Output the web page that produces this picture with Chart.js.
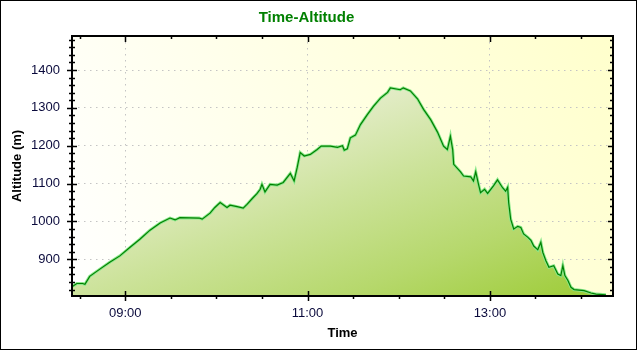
<!DOCTYPE html>
<html>
<head>
<meta charset="utf-8">
<title>Time-Altitude</title>
<script src="https://cdn.jsdelivr.net/npm/chart.js@4.4.1/dist/chart.umd.min.js"></script>
<style>
  html, body { margin: 0; padding: 0; background: #fff; }
  canvas { display: block; }
</style>
</head>
<body>
<canvas id="altitudeChart" width="640" height="350"></canvas>
<script>
// track log : clock time / altitude (m)
const times = [
    '08:25:30', '08:28:10', '08:32:00', '08:33:30', '08:36:40', '08:43:20', '08:49:50', '08:56:30',
    '09:03:00', '09:09:40', '09:16:20', '09:23:00', '09:29:30', '09:32:50', '09:36:00', '09:48:40',
    '09:50:40', '09:55:50', '09:59:00', '10:02:30', '10:07:00', '10:09:00', '10:13:40', '10:17:40',
    '10:20:10', '10:23:30', '10:26:50', '10:28:50', '10:30:00', '10:32:00', '10:35:20', '10:40:00',
    '10:44:00', '10:48:40', '10:51:10', '10:53:10', '10:55:10', '10:57:50', '11:01:50', '11:06:20',
    '11:09:00', '11:15:00', '11:19:40', '11:23:00', '11:24:10', '11:26:10', '11:28:10', '11:31:30',
    '11:34:50', '11:39:20', '11:43:20', '11:48:00', '11:52:40', '11:54:30', '12:01:00', '12:03:00',
    '12:07:40', '12:12:20', '12:16:20', '12:21:00', '12:25:30', '12:29:30', '12:32:00', '12:34:00',
    '12:35:30', '12:36:10', '12:40:40', '12:42:40', '12:47:20', '12:49:10', '12:50:40', '12:52:30',
    '12:53:50', '12:56:30', '12:58:30', '13:02:20', '13:05:00', '13:08:20', '13:10:20', '13:11:40',
    '13:12:20', '13:13:40', '13:15:40', '13:18:20', '13:20:20', '13:22:10', '13:25:00', '13:27:00',
    '13:28:50', '13:31:30', '13:33:30', '13:34:50', '13:36:50', '13:38:50', '13:42:00', '13:44:40',
    '13:46:40', '13:48:00', '13:49:20', '13:51:20', '13:53:20', '13:55:20', '14:02:00', '14:06:30',
    '14:09:50', '14:16:20'
];
const altitudes = [
    829, 836, 836, 834, 855, 874, 892, 909,
    931, 953, 977, 996, 1009, 1004, 1010, 1009,
    1006, 1022, 1037, 1050, 1037, 1043, 1039, 1035,
    1045, 1060, 1074, 1085, 1098, 1078, 1098, 1096,
    1103, 1127, 1107, 1142, 1182, 1173, 1177, 1190,
    1199, 1199, 1196, 1200, 1188, 1192, 1221, 1228,
    1256, 1282, 1304, 1326, 1341, 1353, 1348, 1353,
    1345, 1324, 1296, 1269, 1236, 1199, 1190, 1225,
    1190, 1151, 1131, 1120, 1118, 1107, 1131, 1098,
    1076, 1085, 1074, 1094, 1110, 1089, 1080, 1090,
    1050, 1006, 980, 987, 984, 967, 958, 950,
    935, 925, 945, 918, 896, 879, 883, 861,
    857, 883, 857, 844, 826, 820, 817, 811,
    808, 806
];

// axes
const timeRange = ['08:25', '14:21'];
const timeLabels = ['09:00', '11:00', '13:00'];
const altRange = [803, 1490];
const altLabels = [900, 1000, 1100, 1200, 1300, 1400];

const toMinutes = (s) => {
    const p = s.split(':').map(Number);
    return p[0] * 60 + p[1] + (p[2] || 0) / 60;
};
const pad2 = (n) => String(n).padStart(2, '0');
const fmtTime = (m) => pad2(Math.floor(m / 60)) + ':' + pad2(Math.round(m % 60));

const track = times.map((t, i) => ({ x: toMinutes(t), y: altitudes[i] }));

// fill under the profile : light at top-left, strong green bottom-right
const areaFill = (context) => {
    const { ctx, chartArea } = context.chart;
    if (!chartArea) return null;
    const yScale = context.chart.scales.y;
    const L = chartArea.left, R = chartArea.right, B = chartArea.bottom;
    const T = yScale.getPixelForValue(Math.max(...altitudes));
    const W = R - L, H = B - T;
    const k = 2 * W * H / (W * W + H * H);
    const g = ctx.createLinearGradient(L, T, L + H * k, T + W * k);
    g.addColorStop(0, '#f4f6ee');
    g.addColorStop(0.3, '#e2ecc6');
    g.addColorStop(0.5, '#cde39c');
    g.addColorStop(0.75, '#b6d86c');
    g.addColorStop(1, '#9ccb34');
    return g;
};

// background, frame, inner/outer tick marks
const plotFrame = {
    id: 'plotFrame',
    beforeDraw(chart) {
        const { ctx, chartArea: a } = chart;
        ctx.save();
        ctx.fillStyle = '#fff';
        ctx.fillRect(0, 0, chart.width, chart.height);
        const g = ctx.createLinearGradient(a.left, a.bottom, a.right, a.top);
        g.addColorStop(0, '#ffffff');
        g.addColorStop(1, '#ffffcc');
        ctx.fillStyle = g;
        ctx.fillRect(a.left, a.top, a.right - a.left, a.bottom - a.top);
        ctx.restore();
    },
    afterDraw(chart) {
        const { ctx, chartArea: a, scales } = chart;
        ctx.save();
        ctx.strokeStyle = '#000';
        ctx.lineWidth = 1;
        ctx.strokeRect(0.5, 0.5, 636, 349);

        ctx.lineWidth = 2;
        ctx.strokeRect(a.left, a.top, a.right - a.left, a.bottom - a.top);

        ctx.lineWidth = 1.5;
        ctx.beginPath();
        for (let v = 820; v < altRange[1]; v += 20) {
            const y = Math.round(scales.y.getPixelForValue(v)) + 0.5;
            const major = v % 100 === 0;
            const o = major ? 5 : 3;
            ctx.moveTo(a.left - o, y); ctx.lineTo(a.left + o, y);
            ctx.moveTo(a.right - (major ? 5 : 3), y); ctx.lineTo(a.right, y);
        }
        for (let m = 510; m < toMinutes(timeRange[1]); m += 30) {
            const x = Math.round(scales.x.getPixelForValue(m)) + 0.5;
            const major = (m - 540) % 120 === 0;
            ctx.moveTo(x, a.bottom - (major ? 5 : 0)); ctx.lineTo(x, a.bottom + (major ? 5 : 3));
            ctx.moveTo(x, a.top); ctx.lineTo(x, a.top + (major ? 6 : 3));
        }
        ctx.stroke();
        ctx.restore();
    }
};

const tickFont = { family: '"Liberation Sans", Arial, sans-serif', size: 13 };
const titleFont = { family: '"Liberation Sans", Arial, sans-serif', size: 13, weight: 'bold' };

new Chart(document.getElementById('altitudeChart'), {
    type: 'line',
    data: {
        datasets: [{
            data: track,
            borderColor: '#008000',
            borderWidth: 1.2,
            pointRadius: 0,
            tension: 0,
            fill: false
        }, {
            data: track,
            borderColor: '#8ce88c',
            borderWidth: 3,
            pointRadius: 0,
            tension: 0,
            fill: 'start',
            backgroundColor: areaFill
        }]
    },
    options: {
        responsive: false,
        animation: false,
        events: [],
        devicePixelRatio: 1,
        layout: { padding: { left: 0, top: 0, right: 27, bottom: 0 } },
        plugins: {
            legend: { display: false },
            tooltip: { enabled: false },
            title: {
                display: true,
                text: 'Time-Altitude',
                color: '#008000',
                font: { family: '"Liberation Sans", Arial, sans-serif', size: 15, weight: 'bold' },
                padding: { top: 9, bottom: 9 }
            }
        },
        scales: {
            x: {
                type: 'linear',
                min: toMinutes(timeRange[0]),
                max: toMinutes(timeRange[1]),
                afterBuildTicks: (scale) => {
                    scale.ticks = timeLabels.map((t) => ({ value: toMinutes(t) }));
                },
                afterFit: (scale) => { scale.height = 54; },
                ticks: {
                    color: '#0a0a3c',
                    font: tickFont,
                    padding: 10,
                    maxRotation: 0,
                    callback: (v) => fmtTime(v)
                },
                grid: { color: '#c4c4c4', drawTicks: false },
                border: { display: false, dash: [1.5, 4.5] },
                title: { display: true, text: 'Time', color: '#000', font: titleFont, padding: { top: 0, bottom: 9 } }
            },
            y: {
                min: altRange[0],
                max: altRange[1],
                afterBuildTicks: (scale) => {
                    scale.ticks = altLabels.map((v) => ({ value: v }));
                },
                afterFit: (scale) => { scale.width = 72; },
                ticks: { color: '#0a0a3c', font: tickFont, padding: 12, callback: (v) => String(v) },
                grid: { color: '#c4c4c4', drawTicks: false },
                border: { display: false, dash: [1.5, 4.5] },
                title: { display: true, text: 'Altitude (m)', color: '#000', font: titleFont, padding: { top: 10, bottom: 0 } }
            }
        }
    },
    plugins: [plotFrame]
});
</script>
</body>
</html>
